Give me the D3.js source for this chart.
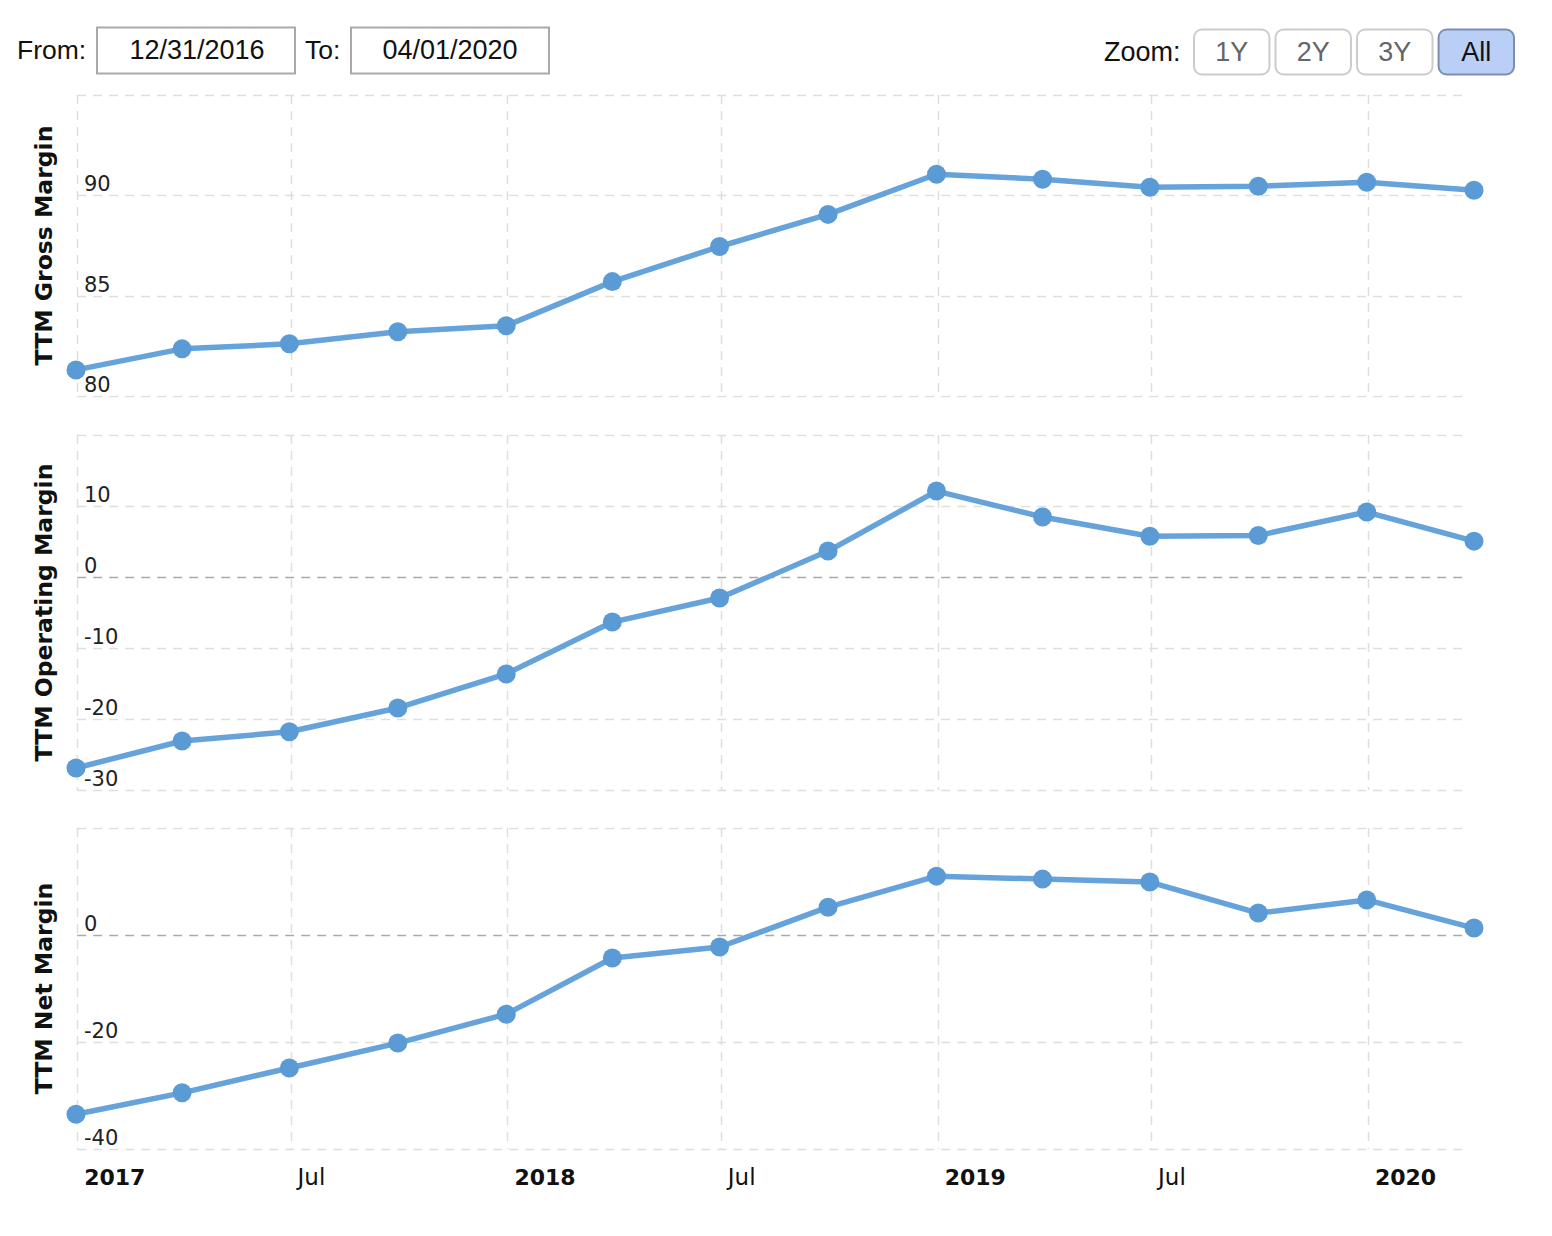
<!DOCTYPE html>
<html>
<head>
<meta charset="utf-8">
<script src="https://cdn.jsdelivr.net/npm/d3@7/dist/d3.min.js"></script>
<style>
  html, body { margin: 0; padding: 0; background: #fff; }
  svg { display: block; }
</style>
</head>
<body>
<div id="chart"></div>
<script>
// ---- Data ----
const quarterDates = ["2016-12-31","2017-03-31","2017-06-30","2017-09-30","2017-12-31","2018-03-31","2018-06-30","2018-09-30","2018-12-31","2019-03-31","2019-06-30","2019-09-30","2019-12-31","2020-03-31"];
const grossMargin = [81.3, 82.35, 82.6, 83.2, 83.5, 85.7, 87.45, 89.05, 91.05, 90.8, 90.4, 90.45, 90.65, 90.25];
const operatingMargin = [-26.9, -23.1, -21.8, -18.45, -13.65, -6.35, -2.95, 3.65, 12.1, 8.45, 5.75, 5.85, 9.15, 5.05];
const netMargin = [-33.5, -29.5, -24.85, -20.2, -14.8, -4.3, -2.25, 5.2, 11.0, 10.45, 9.9, 4.1, 6.55, 1.3];

const grossTicks = [80, 85, 90, 95];
const operatingTicks = [-30, -20, -10, 0, 10, 20];
const netTicks = [-40, -20, 0, 20];

const panelTitles = ["TTM Gross Margin", "TTM Operating Margin", "TTM Net Margin"];
const xTickDates = ["2017-01-01","2017-07-01","2018-01-01","2018-07-01","2019-01-01","2019-07-01","2020-01-01"];
const xTickLabels = ["2017","Jul","2018","Jul","2019","Jul","2020"];

const fromDate = "12/31/2016";
const toDate = "04/01/2020";
const zoomButtons = ["1Y","2Y","3Y","All"];

// ---- Layout ----
const W = 1552, H = 1236;
const parse = d3.timeParse("%Y-%m-%d");
const svg = d3.select("#chart").append("svg").attr("width", W).attr("height", H);

const x = d3.scaleTime()
  .domain([parse("2016-12-31"), parse("2020-03-31")])
  .range([76, 1474]);
const gridLeft = x(parse("2017-01-01"));
const gridRight = 1467;

const panels = [
  { title: panelTitles[0], values: grossMargin, ticks: grossTicks, domain: [80, 95], range: [396, 95] },
  { title: panelTitles[1], values: operatingMargin, ticks: operatingTicks, domain: [-30, 20], range: [790, 435] },
  { title: panelTitles[2], values: netMargin, ticks: netTicks, domain: [-40, 20], range: [1149, 828] }
];

const lineColor = "#5b9bd5";

panels.forEach(p => {
  const y = d3.scaleLinear().domain(p.domain).range(p.range);
  const g = svg.append("g");
  const pTop = p.range[1], pBottom = p.range[0];

  // vertical grid
  g.selectAll("line.vg").data(xTickDates).enter().append("line")
    .attr("x1", d => Math.round(x(parse(d))) + 0.5)
    .attr("x2", d => Math.round(x(parse(d))) + 0.5)
    .attr("y1", pTop).attr("y2", pBottom)
    .attr("stroke", "#dedede").attr("stroke-width", 1.5)
    .attr("stroke-dasharray", "9,7");

  // horizontal grid
  g.selectAll("line.hg").data(p.ticks).enter().append("line")
    .attr("x1", gridLeft).attr("x2", gridRight)
    .attr("y1", d => Math.round(y(d)) + 0.5)
    .attr("y2", d => Math.round(y(d)) + 0.5)
    .attr("stroke", d => d === 0 ? "#aaaaaa" : "#dedede")
    .attr("stroke-width", 1.5)
    .attr("stroke-dasharray", "9,7");

  // tick labels (top tick unlabeled)
  g.selectAll("text.yt").data(p.ticks.slice(0, -1)).enter().append("text")
    .attr("x", 84)
    .attr("y", d => y(d) - 4)
    .attr("font-family", "DejaVu Sans, Verdana, sans-serif")
    .attr("font-size", 21)
    .attr("fill", "#222")
    .text(d => d);

  // axis title
  g.append("text")
    .attr("transform", `translate(52,${(pTop + pBottom) / 2}) rotate(-90)`)
    .attr("text-anchor", "middle")
    .attr("font-family", "DejaVu Sans, Verdana, sans-serif")
    .attr("font-weight", "bold")
    .attr("font-size", 23.5)
    .attr("fill", "#111")
    .text(p.title);

  const pts = quarterDates.map((d, i) => ({ date: parse(d), v: p.values[i] }));
  const line = d3.line().x(d => x(d.date)).y(d => y(d.v));
  g.append("path").datum(pts)
    .attr("d", line)
    .attr("fill", "none")
    .attr("stroke", "#66a3db")
    .attr("stroke-width", 5.5)
    .attr("stroke-linejoin", "round");
  g.selectAll("circle").data(pts).enter().append("circle")
    .attr("cx", d => x(d.date))
    .attr("cy", d => y(d.v))
    .attr("r", 9.5)
    .attr("fill", lineColor);
});

// x-axis labels
svg.selectAll("text.xl").data(xTickDates).enter().append("text")
  .attr("x", d => x(parse(d)) + 7)
  .attr("y", 1185)
  .attr("font-family", "DejaVu Sans, Verdana, sans-serif")
  .attr("font-size", (d, i) => xTickLabels[i] === "Jul" ? 23 : 22)
  .attr("font-weight", (d, i) => xTickLabels[i] === "Jul" ? "normal" : "bold")
  .attr("fill", "#111")
  .text((d, i) => xTickLabels[i]);

// ---- Top controls ----
const ctrlFont = "Liberation Sans, Arial, sans-serif";
const ctrl = svg.append("g");
ctrl.append("text").attr("x", 17).attr("y", 59).attr("font-family", ctrlFont).attr("font-size", 26.5).attr("fill", "#111").text("From:");
ctrl.append("rect").attr("x", 97).attr("y", 27.5).attr("width", 198).attr("height", 46)
  .attr("fill", "#fff").attr("stroke", "#a9a9a9").attr("stroke-width", 2);
ctrl.append("text").attr("x", 197).attr("y", 59).attr("text-anchor", "middle").attr("font-family", ctrlFont).attr("font-size", 27).attr("fill", "#111").text(fromDate);
ctrl.append("text").attr("x", 305).attr("y", 59).attr("font-family", ctrlFont).attr("font-size", 26.5).attr("fill", "#111").text("To:");
ctrl.append("rect").attr("x", 351).attr("y", 27.5).attr("width", 198).attr("height", 46)
  .attr("fill", "#fff").attr("stroke", "#a9a9a9").attr("stroke-width", 2);
ctrl.append("text").attr("x", 450).attr("y", 59).attr("text-anchor", "middle").attr("font-family", ctrlFont).attr("font-size", 27).attr("fill", "#111").text(toDate);

ctrl.append("text").attr("x", 1104).attr("y", 61).attr("font-family", ctrlFont).attr("font-size", 27).attr("fill", "#111").text("Zoom:");
const btnX = d3.scaleBand().domain(zoomButtons).range([1194, 1514]).paddingInner(0.075);
zoomButtons.forEach(b => {
  const active = b === "All";
  ctrl.append("rect")
    .attr("x", btnX(b)).attr("y", 29.5).attr("width", btnX.bandwidth()).attr("height", 45)
    .attr("rx", 8).attr("ry", 8)
    .attr("fill", active ? "#b9cff5" : "#fff")
    .attr("stroke", active ? "#7d8cb0" : "#cccccc")
    .attr("stroke-width", 2);
  ctrl.append("text")
    .attr("x", btnX(b) + btnX.bandwidth() / 2).attr("y", 61)
    .attr("text-anchor", "middle")
    .attr("font-family", ctrlFont).attr("font-size", 27)
    .attr("fill", active ? "#111" : "#666")
    .text(b);
});
</script>
</body>
</html>
